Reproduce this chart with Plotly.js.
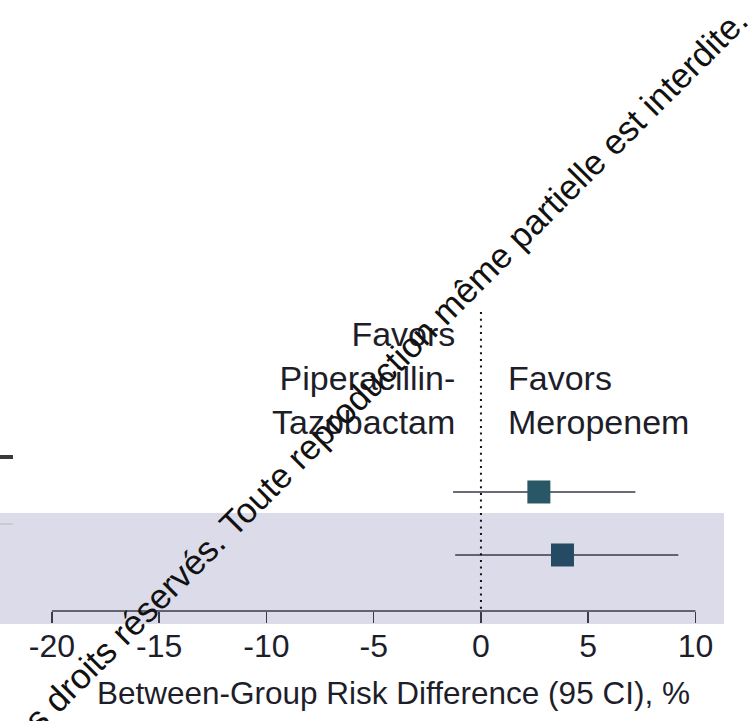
<!DOCTYPE html>
<html>
<head>
<meta charset="utf-8">
<script src="https://cdn.plot.ly/plotly-3.0.1.min.js"></script>
<style>
  html, body { margin: 0; padding: 0; background: #ffffff; }
  #chart { width: 755px; height: 721px; }
</style>
</head>
<body>
<div id="chart"></div>
<script>
// Between-group risk difference with 95% CI, one row per outcome
const rows = [1, 2];
const riskDiff = [2.7, 3.8];
const ciLower = [-1.3, -1.2];
const ciUpper = [7.2, 9.2];

// x-axis ticks
const tickValues = [-20, -15, -10, -5, 0, 5, 10];
const tickLabels = ['-20', '-15', '-10', '-5', '0', '5', '10'];

// header and axis text
const favorsLeft = ['Favors', 'Piperacillin-', 'Tazobactam'];
const favorsRight = ['Favors', 'Meropenem'];
const axisTitle = 'Between-Group Risk Difference (95 CI), %';
const notice = 'Tous droits réservés. Toute reproduction même partielle est interdite.';

const FONT = 'Liberation Sans, Arial, sans-serif';
const INK = '#1e1e2a';
const LINE = '#3a3a48';

const plusErr = riskDiff.map((v, i) => ciUpper[i] - v);
const minusErr = riskDiff.map((v, i) => v - ciLower[i]);

const trace = {
  type: 'scatter',
  mode: 'markers',
  x: riskDiff,
  y: rows,
  marker: { symbol: 'square', size: 23, color: ['#2a5765', '#254a63'], line: { width: 0 } },
  error_x: {
    type: 'data', symmetric: false,
    array: plusErr, arrayminus: minusErr,
    color: LINE, thickness: 1.5, width: 0
  },
  hoverinfo: 'skip',
  showlegend: false
};

// plot area: 724 x 611 px
const PW = 724, PH = 611;
const py = px => (PH - px) / PH; // pixel row (from top) -> paper y

const layout = {
  width: 755,
  height: 721,
  margin: { l: 0, r: 31, t: 0, b: 110, pad: 0 },
  paper_bgcolor: '#ffffff',
  plot_bgcolor: 'rgba(0,0,0,0)',
  showlegend: false,
  xaxis: {
    range: [-22.42, 11.33],
    tickmode: 'array',
    tickvals: tickValues,
    ticktext: tickLabels,
    ticks: 'outside',
    ticklen: 11,
    tickwidth: 1.5,
    tickcolor: LINE,
    ticklabelstandoff: -4,
    showline: false,
    showgrid: false,
    zeroline: false,
    tickfont: { family: FONT, size: 32, color: INK },
    fixedrange: true
  },
  yaxis: {
    range: [2.889, -6.8095],
    visible: false,
    fixedrange: true
  },
  shapes: [
    // shaded row band
    { type: 'rect', xref: 'paper', yref: 'paper', x0: 0, x1: 1,
      y0: py(624), y1: py(513), fillcolor: '#dbdbe9', line: { width: 0 }, layer: 'below' },
    // axis line spanning the tick range
    { type: 'line', xref: 'x', yref: 'paper',
      x0: tickValues[0], x1: tickValues[tickValues.length - 1], y0: 0, y1: 0,
      line: { color: LINE, width: 1.5 }, layer: 'above' },
    // no-difference reference line
    { type: 'line', xref: 'x', yref: 'y', x0: 0, x1: 0, y0: -1.857, y1: 2.86,
      line: { color: '#111111', width: 2, dash: '2px,4.7px' }, layer: 'above' },
    // table rules at the left edge
    { type: 'line', xref: 'paper', yref: 'paper', x0: 0, x1: 13 / PW, y0: py(457), y1: py(457),
      line: { color: '#3a3a3a', width: 4 } },
    { type: 'line', xref: 'paper', yref: 'paper', x0: 0, x1: 13 / PW, y0: py(524), y1: py(524),
      line: { color: '#c4c4cc', width: 1.5 } }
  ],
  annotations: [
    { xref: 'x', yref: 'paper', x: 0, y: py(378), xshift: -24,
      xanchor: 'right', yanchor: 'middle', align: 'right', showarrow: false,
      text: favorsLeft.join('<br>'), font: { family: FONT, size: 34, color: INK } },
    { xref: 'x', yref: 'paper', x: 0, y: py(399.5), xshift: 25,
      xanchor: 'left', yanchor: 'middle', align: 'left', showarrow: false,
      text: favorsRight.join('<br>'), font: { family: FONT, size: 34, color: INK } },
    { xref: 'paper', yref: 'paper', x: 393 / PW, y: py(693),
      xanchor: 'center', yanchor: 'middle', showarrow: false,
      text: axisTitle, font: { family: FONT, size: 31.5, color: INK } },
    // diagonal notice
    { xref: 'paper', yref: 'paper', x: 365.7 / PW, y: py(389.3),
      xanchor: 'center', yanchor: 'middle', showarrow: false, textangle: -45,
      text: notice, font: { family: FONT, size: 35, color: '#111111' } }
  ]
};

Plotly.newPlot('chart', [trace], layout, { staticPlot: true, displayModeBar: false });
</script>
</body>
</html>
